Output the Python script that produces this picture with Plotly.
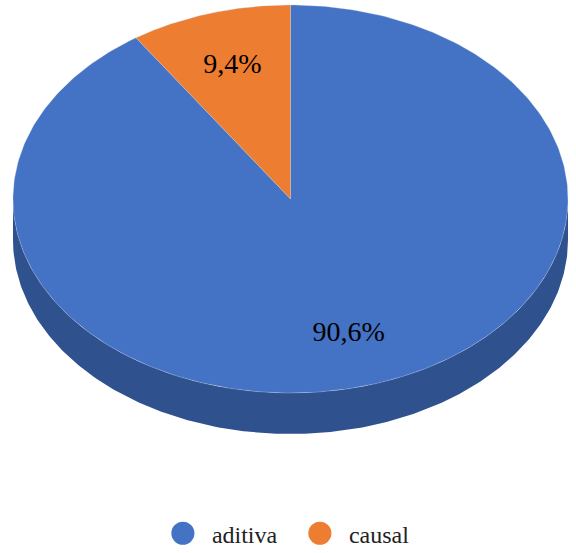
import numpy as np
import plotly.graph_objects as go

categories = ["aditiva", "causal"]
values = [90.6, 9.4]
value_labels = ["90,6%", "9,4%"]
colors = ["#4472C4", "#ED7D31"]
side_color = "#2F528F"

W, H = 576, 553
cx, cy, rx, ry, depth_px = 290.5, 199, 277.5, 194, 41
depth = depth_px / ry
label_drop = 1 / ry


def pt(angle, r=1.0):
    return r * np.sin(angle), r * np.cos(angle)


fractions = np.array(values) / sum(values)
edges = np.concatenate([[0], np.cumsum(fractions)]) * 2 * np.pi

fig = go.Figure()

# side wall of the blue slice (the visible front half of the disc)
t = np.linspace(np.pi / 2, 3 * np.pi / 2, 241)
sx, sy = pt(t)
fig.add_trace(go.Scatter(
    x=np.concatenate([sx, sx[::-1]]),
    y=np.concatenate([sy - depth, sy[::-1]]),
    fill="toself", fillcolor=side_color, mode="lines",
    line=dict(color=side_color, width=0), showlegend=False, hoverinfo="skip",
))

# top face
for i, name in enumerate(categories):
    t = np.linspace(edges[i], edges[i + 1], 361)
    ax, ay = pt(t)
    fig.add_trace(go.Scatter(
        x=np.concatenate([[0], ax, [0]]),
        y=np.concatenate([[0], ay, [0]]),
        fill="toself", fillcolor=colors[i], mode="lines",
        line=dict(color="#C9D6EE", width=0.3), legendgroup=name,
        showlegend=False, name=name, hoverinfo="name",
    ))

# data labels at the middle of each slice
mid = (edges[:-1] + edges[1:]) / 2
lx, ly = pt(mid, 0.72)
fig.add_trace(go.Scatter(
    x=lx, y=ly - label_drop, mode="text", text=value_labels,
    textposition="middle center",
    textfont=dict(family="Liberation Serif", size=28, color="#000000"),
    showlegend=False, hoverinfo="skip",
))

# legend entries
for i, name in enumerate(categories):
    fig.add_trace(go.Scatter(
        x=[None], y=[None], mode="markers", name=name, legendgroup=name,
        marker=dict(symbol="circle", size=16, color=colors[i]),
    ))

fig.update_layout(
    width=W, height=H,
    margin=dict(l=0, r=0, t=0, b=0, autoexpand=False),
    paper_bgcolor="white", plot_bgcolor="white",
    xaxis=dict(range=[-cx / rx, (W - cx) / rx], visible=False, fixedrange=True),
    yaxis=dict(range=[(cy - H) / ry, cy / ry], visible=False, fixedrange=True),
    legend=dict(
        orientation="h", x=0.505, xanchor="center", y=0.035, yanchor="middle",
        font=dict(family="Liberation Serif", size=24, color="#222222"),
        itemwidth=48, entrywidth=74, entrywidthmode="pixels",
        itemclick=False, itemdoubleclick=False,
    ),
)

post = """
document.body.style.margin = '0';
var gd = document.querySelector('.plotly-graph-div');
function growLegendMarkers() {
  gd.querySelectorAll('.legend path.scatterpts').forEach(function (p) {
    if (p.dataset.grown) return;
    p.dataset.grown = '1';
    var tr = p.getAttribute('transform') || '';
    p.setAttribute('transform', tr + ' scale(1.44)');
  });
}
gd.on('plotly_afterplot', growLegendMarkers);
setTimeout(growLegendMarkers, 0);
setTimeout(growLegendMarkers, 200);
"""
fig.write_html("out.html", config={"displayModeBar": False}, post_script=post)
